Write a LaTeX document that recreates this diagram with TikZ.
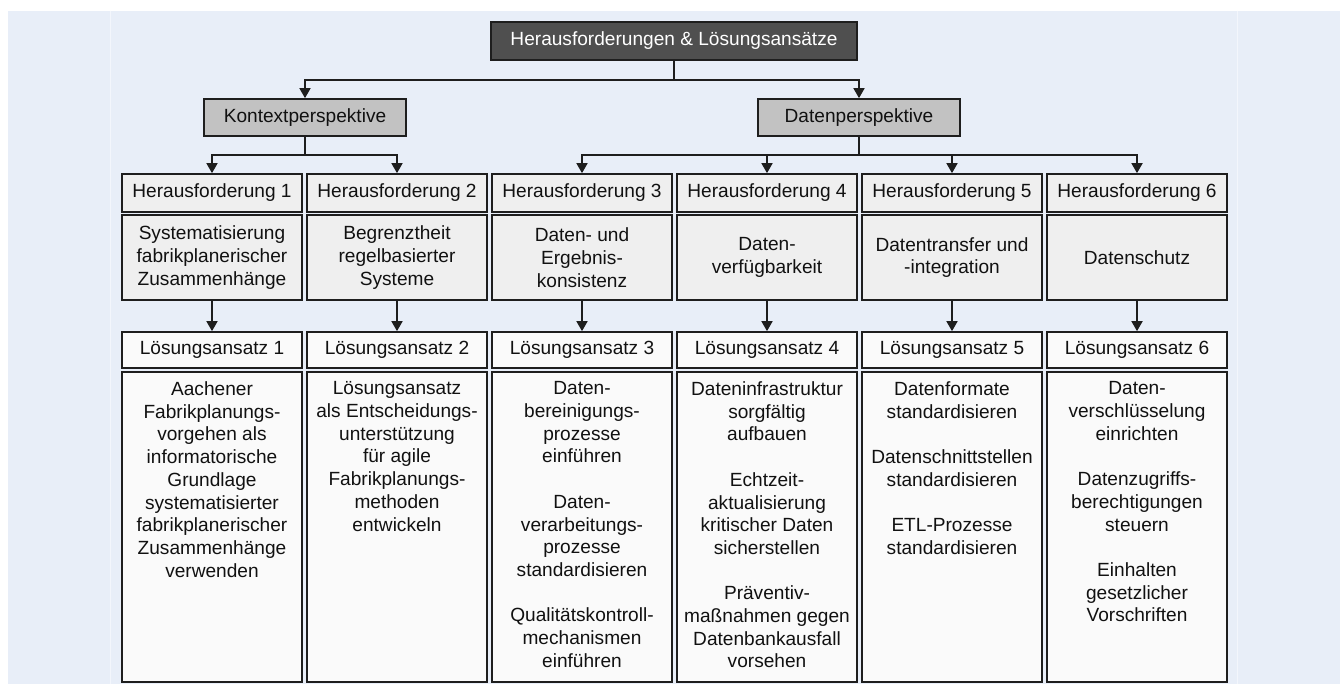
\documentclass[tikz,border=0pt]{standalone}
\usepackage{fontspec}
\setmainfont{Liberation Sans}
\usetikzlibrary{arrows.meta}
\definecolor{bgblue}{HTML}{E8EEF8}
\definecolor{bgline}{HTML}{F3F6FC}
\definecolor{edge}{HTML}{1E1E1E}
\definecolor{darkfill}{HTML}{4F4F4F}
\definecolor{midfill}{HTML}{C2C2C2}
\definecolor{lightfill}{HTML}{EFEFEF}
\definecolor{whitefill}{HTML}{FAFAFA}
\definecolor{txt}{HTML}{111111}
\tikzset{
  base/.style={draw=edge, line width=1.7pt, inner sep=0pt, align=center,
    text=txt, font=\fontsize{19.1}{22.7}\selectfont},
  topbox/.style={base, fill=darkfill, text=white, minimum width=366pt, minimum height=38pt},
  perbox/.style={base, fill=midfill, minimum width=202pt, minimum height=37pt},
  hbox/.style={base, fill=lightfill, minimum width=180pt, minimum height=38pt},
  dbox/.style={base, fill=lightfill, minimum width=180pt, minimum height=85pt},
  lbox/.style={base, fill=whitefill, minimum width=180pt, minimum height=36pt},
  sbox/.style={base, fill=whitefill, minimum width=180pt, minimum height=310pt},
  stext/.style={inner sep=0pt, align=center, text=txt, anchor=north,
    font=\fontsize{19.1}{22.7}\selectfont},
  arr/.style={draw=edge, line width=1.7pt, -{Triangle[length=10pt,width=11pt]}},
  ln/.style={draw=edge, line width=1.7pt}
}
\begin{document}
\begin{tikzpicture}[x=1pt,y=-1pt]
\useasboundingbox (0,0) rectangle (1340,684);
\fill[white] (0,0) rectangle (1340,684);
\fill[bgblue] (8,11) rectangle (1340,684);
\draw[bgline, line width=1pt] (110,11) -- (110,684);
\draw[bgline, line width=1pt] (1237,11) -- (1237,684);

\node[topbox] (top) at (674,41) {Herausforderungen \& Lösungsansätze};
\node[perbox] (kon) at (305,117.5) {Kontextperspektive};
\node[perbox] (dat) at (859,117.5) {Datenperspektive};

% columns
\foreach \i/\d/\s in {
 1/{Systematisierung\\fabrikplanerischer\\Zusammenhänge}/{Aachener\\Fabrikplanungs-\\vorgehen als\\informatorische\\Grundlage\\systematisierter\\fabrikplanerischer\\Zusammenhänge\\verwenden},
 2/{Begrenztheit\\regelbasierter\\Systeme}/{Lösungsansatz\\als Entscheidungs-\\unterstützung\\für agile\\Fabrikplanungs-\\methoden\\entwickeln},
 3/{Daten- und\\Ergebnis-\\konsistenz}/{Daten-\\bereinigungs-\\prozesse\\einführen\\[22.7pt]Daten-\\verarbeitungs-\\prozesse\\standardisieren\\[22.7pt]Qualitätskontroll-\\mechanismen\\einführen},
 4/{Daten-\\verfügbarkeit}/{Dateninfrastruktur\\sorgfältig\\aufbauen\\[22.7pt]Echtzeit-\\aktualisierung\\kritischer Daten\\sicherstellen\\[22.7pt]Präventiv-\\maßnahmen gegen\\Datenbankausfall\\vorsehen},
 5/{Datentransfer und\\-integration}/{Datenformate\\standardisieren\\[22.7pt]Datenschnittstellen\\standardisieren\\[22.7pt]ETL-Prozesse\\standardisieren},
 6/{Datenschutz}/{Daten-\\verschlüsselung\\einrichten\\[22.7pt]Datenzugriffs-\\berechtigungen\\steuern\\[22.7pt]Einhalten\\gesetzlicher\\Vorschriften}}
{
  \pgfmathsetmacro{\cx}{212+185*(\i-1)}
  \node[hbox] (h\i) at (\cx,193) {Herausforderung \i};
  \node[dbox] (d\i) at (\cx,257.5) {\d};
  \node[lbox] (l\i) at (\cx,350) {Lösungsansatz \i};
  \node[sbox] (s\i) at (\cx,527) {};
  \node[stext] (t\i) at (\cx,381.5) {\s};
  \draw[arr] (d\i.south) -- (l\i.north);
}

\coordinate (j0) at (674,80);
\draw[arr] (top.south) -- (j0) -| (kon.north);
\draw[arr] (j0) -| (dat.north);

\coordinate (j1) at (305,155);
\draw[arr] (kon.south) -- (j1) -| (h1.north);
\draw[arr] (j1) -| (h2.north);

\coordinate (j2) at (859,155);
\draw[ln] (dat.south) -- (j2);
\draw[arr] (j2) -| (h3.north);
\draw[arr] (j2) -| (h4.north);
\draw[arr] (j2) -| (h5.north);
\draw[arr] (j2) -| (h6.north);
\end{tikzpicture}
\end{document}
